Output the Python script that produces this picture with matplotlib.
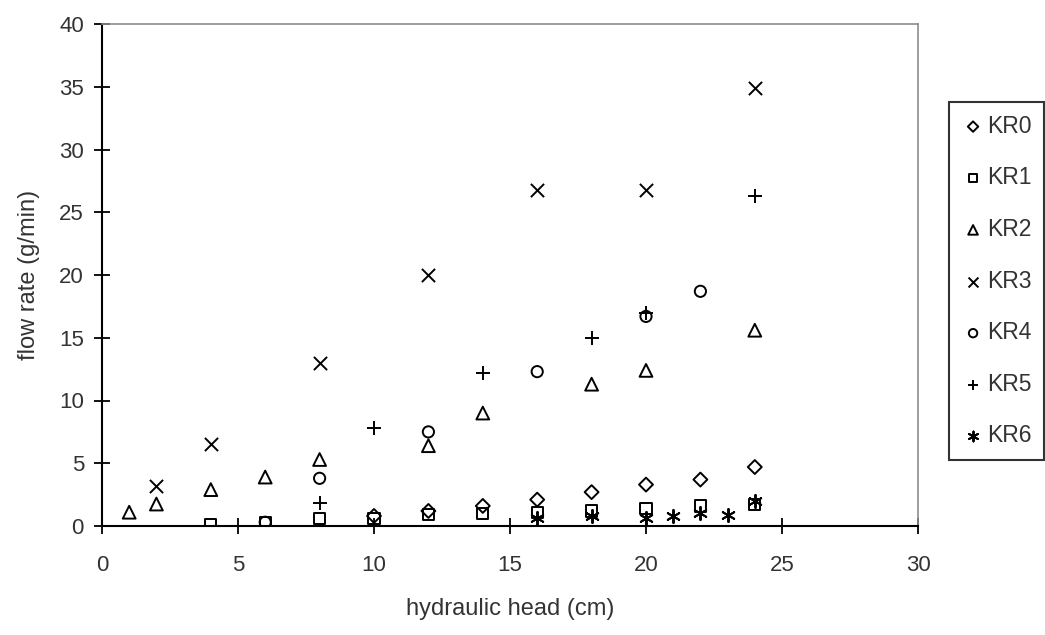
import matplotlib
matplotlib.use("Agg")
import matplotlib.pyplot as plt

# hydraulic head (cm) and flow rate (g/min) per sample
kr0_x = [10, 12, 14, 16, 18, 20, 22, 24]
kr0_y = [0.8, 1.2, 1.6, 2.1, 2.7, 3.3, 3.7, 4.7]

kr1_x = [4, 6, 8, 10, 12, 14, 16, 18, 20, 22, 24]
kr1_y = [0.1, 0.3, 0.6, 0.6, 0.9, 1.0, 1.1, 1.2, 1.4, 1.6, 1.7]

kr2_x = [1, 2, 4, 6, 8, 12, 14, 18, 20, 24]
kr2_y = [1.1, 1.75, 2.9, 3.9, 5.3, 6.4, 9.0, 11.3, 12.4, 15.6]

kr3_x = [2, 4, 8, 12, 16, 20, 24]
kr3_y = [3.2, 6.5, 13.0, 20.0, 26.8, 26.8, 34.9]

kr4_x = [6, 8, 12, 16, 20, 22]
kr4_y = [0.3, 3.8, 7.5, 12.3, 16.7, 18.7]

kr5_x = [8, 10, 14, 18, 20, 24]
kr5_y = [1.8, 7.8, 12.2, 15.0, 17.0, 26.3]

kr6_x = [16, 18, 20, 21, 22, 23, 24]
kr6_y = [0.6, 0.8, 0.6, 0.8, 1.0, 0.9, 2.0]

labels = ["KR0", "KR1", "KR2", "KR3", "KR4", "KR5", "KR6"]
series = [(kr0_x, kr0_y), (kr1_x, kr1_y), (kr2_x, kr2_y), (kr3_x, kr3_y),
          (kr4_x, kr4_y), (kr5_x, kr5_y), (kr6_x, kr6_y)]
markers = ["D", "s", "^", "x", "o", "+", (6, 2, 0)]
sizes = [50, 65, 85, 90, 65, 110, 90]

plt.rcParams["font.family"] = ["Liberation Sans", "DejaVu Sans"]

fig = plt.figure(figsize=(10.45, 6.35), dpi=100)
ax = fig.add_axes([102 / 1045, 1 - 526 / 635, (918 - 102) / 1045, (526 - 24) / 635])

for (xs, ys), m, s, lab in zip(series, markers, sizes, labels):
    if m in ("x", "+", (6, 2, 0)):
        ax.scatter(xs, ys, marker=m, s=s, c="black", linewidths=1.4, label=lab, zorder=3)
    else:
        ax.scatter(xs, ys, marker=m, s=s, facecolors="none",
                   edgecolors="black", linewidths=1.4, label=lab, zorder=3)

ax.set_xlim(0, 30)
ax.set_ylim(0, 40)
ax.set_xticks(range(0, 31, 5))
ax.set_yticks(range(0, 41, 5))

for side in ("top", "right"):
    ax.spines[side].set_color("#8c8c8c")
    ax.spines[side].set_linewidth(1.2)
for side in ("left", "bottom"):
    ax.spines[side].set_color("black")
    ax.spines[side].set_linewidth(1.5)

ax.tick_params(direction="inout", length=12, width=1.3, color="black",
               labelsize=16, labelcolor="#333333")
ax.tick_params(axis="x", pad=15)
ax.tick_params(axis="y", pad=7)
ax.set_xlabel("hydraulic head (cm)", fontsize=17, color="#333333", labelpad=16)
ax.set_ylabel("flow rate (g/min)", fontsize=17, color="#333333", labelpad=14)

leg = fig.legend(loc="upper left", bbox_to_anchor=(949 / 1045, 1 - 102 / 635),
                 frameon=True, fancybox=False, fontsize=16.5, handletextpad=0.1,
                 handlelength=1.0, labelspacing=1.25, borderpad=0.55,
                 markerscale=0.75, borderaxespad=0)
for t in leg.get_texts():
    t.set_color("#333333")
leg.get_frame().set_edgecolor("black")
leg.get_frame().set_linewidth(1.5)

fig.savefig("out.png", dpi=100, facecolor="white")
